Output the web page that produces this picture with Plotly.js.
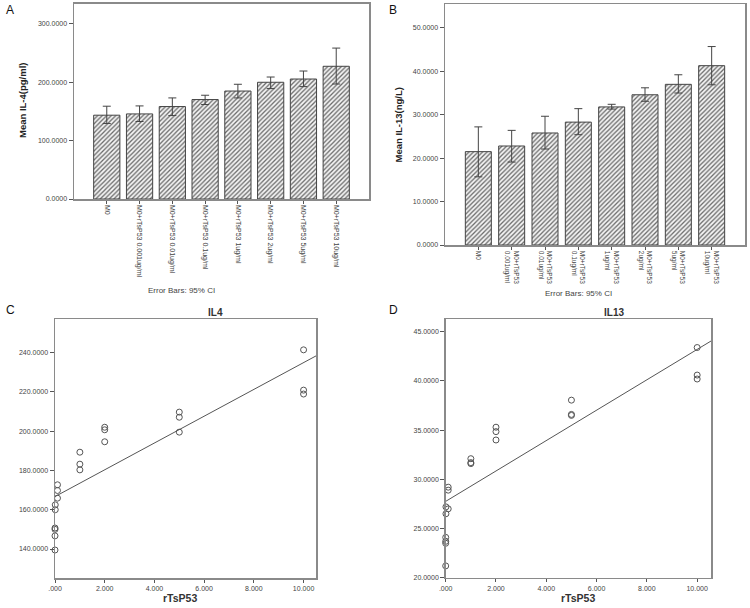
<!DOCTYPE html>
<html><head><meta charset="utf-8">
<script src="https://cdn.plot.ly/plotly-3.0.1.min.js"></script>
<style>html,body{margin:0;padding:0;background:#fff}#chart{width:750px;height:608px}</style>
</head><body><div id="chart"></div>
<script>
// ---------- Data ----------
const categoriesA = ["M0","M0+rTsP53 0.001ug/ml","M0+rTsP53 0.01ug/ml","M0+rTsP53 0.1ug/ml","M0+rTsP53 1ug/ml","M0+rTsP53 2ug/ml","M0+rTsP53 5ug/ml","M0+rTsP53 10ug/ml"];
const categoriesB = ["M0","M0+rTsP53<br>0.001ug/ml","M0+rTsP53<br>0.01ug/ml","M0+rTsP53<br>0.1ug/ml","M0+rTsP53<br>1ug/ml","M0+rTsP53<br>2ug/ml","M0+rTsP53<br>5ug/ml","M0+rTsP53<br>10ug/ml"];
const meanIL4  = [143.6, 145.8, 158.4, 170.4, 185.0, 200.0, 205.6, 227.4];
const ciHighIL4 = [159.0, 159.5, 173.2, 177.8, 196.6, 209.0, 219.3, 258.6];
const ciLowIL4  = [129.4, 132.8, 143.0, 161.9, 173.2, 189.2, 192.6, 197.0];
const meanIL13  = [21.5, 22.8, 25.8, 28.3, 31.8, 34.6, 37.0, 41.3];
const ciHighIL13 = [27.2, 26.4, 29.65, 31.4, 32.4, 36.2, 39.2, 45.7];
const ciLowIL13  = [15.7, 19.1, 22.1, 25.4, 31.3, 33.1, 35.0, 36.9];

const doseC = [0,0,0,0.001,0.01,0.01, 0.1,0.1,0.1, 1,1,1, 2,2,2, 5,5,5, 10,10,10];
const il4C  = [139.5,146.7,150.0,150.7,160.0,162.5, 165.9,169.8,172.7, 189.3,183.2,180.3, 202.0,200.7,194.6, 209.7,207.1,199.5, 241.4,220.9,218.9];
const doseD = [0,0,0.001,0.001,0.01,0.01, 0.1,0.1,0.1, 1,1,1, 2,2,2, 5,5,5, 10,10,10];
const il13D = [21.2,23.5,23.7,24.1,26.5,27.2, 29.2,28.9,27.0, 32.1,31.7,31.6, 35.3,34.85,34.0, 38.05,36.6,36.5, 43.4,40.6,40.2];

const fitIL4  = [166.7, 6.82];   // intercept, slope
const fitIL13 = [27.76, 1.545];

const scatterTickVals = [0,2,4,6,8,10];
const scatterTickText = [".000","2.000","4.000","6.000","8.000","10.000"];

// ---------- Helpers ----------
const W = 750, H = 608;
const dx = (a,b)=>[a/W, b/W];
const dy = (top,bottom)=>[(H-bottom)/H, (H-top)/H];
const FONT = "Arial, 'Liberation Sans', sans-serif";
const tickFont = {family: FONT, size: 7, color: "#444"};
const frameColor = "#8a8a8a";

function diff(a,b){return a.map((v,i)=>v-b[i]);}

const rangeC = [0, 10.5], rangeD = [0, 10.55];
const lineX = r => [r[0], r[1]];

const barStyle = {
  color: "#f2f2f2",
  line: {color: "#444", width: 1},
  pattern: {shape: "/", fgcolor: "#6a6a6a", bgcolor: "#f4f4f4", size: 3.2, solidity: 0.4}
};

const traces = [
  {type:"bar", x:categoriesA, y:meanIL4, xaxis:"x", yaxis:"y", width:0.8, marker:barStyle,
   error_y:{type:"data", symmetric:false, array:diff(ciHighIL4,meanIL4), arrayminus:diff(meanIL4,ciLowIL4), color:"#444", thickness:1, width:4}},
  {type:"bar", x:categoriesB, y:meanIL13, xaxis:"x2", yaxis:"y2", width:0.78, marker:barStyle,
   error_y:{type:"data", symmetric:false, array:diff(ciHighIL13,meanIL13), arrayminus:diff(meanIL13,ciLowIL13), color:"#444", thickness:1, width:4}},
  {type:"scatter", mode:"markers", x:doseC, y:il4C, xaxis:"x3", yaxis:"y3", cliponaxis:false,
   marker:{symbol:"circle-open", size:6, color:"#555", line:{width:1}}},
  {type:"scatter", mode:"lines", x:lineX(rangeC), y:lineX(rangeC).map(v=>fitIL4[0]+fitIL4[1]*v), xaxis:"x3", yaxis:"y3",
   line:{color:"#555", width:1}},
  {type:"scatter", mode:"markers", x:doseD, y:il13D, xaxis:"x4", yaxis:"y4", cliponaxis:false,
   marker:{symbol:"circle-open", size:6, color:"#555", line:{width:1}}},
  {type:"scatter", mode:"lines", x:lineX(rangeD), y:lineX(rangeD).map(v=>fitIL13[0]+fitIL13[1]*v), xaxis:"x4", yaxis:"y4",
   line:{color:"#555", width:1}}
];

const axBase = {showline:true, mirror:true, linecolor:frameColor, linewidth:1.5, showgrid:false, zeroline:false,
  ticks:"outside", ticklen:4, tickcolor:"#555", tickfont:tickFont, fixedrange:true};

const ann = (text,x,y,opts={}) => Object.assign({text, x:x/W, y:(H-y)/H, xref:"paper", yref:"paper",
  showarrow:false, xanchor:"center", yanchor:"middle", font:{family:FONT, size:9, color:"#222"}}, opts);

const layout = {
  width:W, height:H, margin:{l:0,r:0,t:0,b:0}, showlegend:false,
  paper_bgcolor:"#fff", plot_bgcolor:"#fff", font:{family:FONT},
  xaxis: Object.assign({}, axBase, {domain:dx(74,369), anchor:"y", range:[-1,8], tickangle:90, type:"category", ticklen:3}),
  yaxis: Object.assign({}, axBase, {domain:dy(3.5,199), anchor:"x", range:[0,335], tickvals:[0,100,200,300], tickformat:".4f"}),
  xaxis2: Object.assign({}, axBase, {domain:dx(445,745), anchor:"y2", range:[-1,8], tickangle:90, type:"category", ticklen:3, tickfont:{family:FONT,size:6.5,color:"#444"}}),
  yaxis2: Object.assign({}, axBase, {domain:dy(4,245), anchor:"x2", range:[0,55.5], tickvals:[0,10,20,30,40,50], tickformat:".4f"}),
  xaxis3: Object.assign({}, axBase, {domain:dx(55,316), anchor:"y3", range:rangeC, tickvals:scatterTickVals, ticktext:scatterTickText, ticklen:3}),
  yaxis3: Object.assign({}, axBase, {domain:dy(319,578.3), anchor:"x3", range:[125.1,257.1], tickvals:[140,160,180,200,220,240], tickformat:".4f"}),
  xaxis4: Object.assign({}, axBase, {domain:dx(445.7,711), anchor:"y4", range:rangeD, tickvals:scatterTickVals, ticktext:scatterTickText, ticklen:3}),
  yaxis4: Object.assign({}, axBase, {domain:dy(319,577.7), anchor:"x4", range:[20,46.3], tickvals:[20,25,30,35,40,45], tickformat:".4f"}),
  annotations: [
    ann("A", 10, 10, {font:{family:FONT,size:12,color:"#111"}}),
    ann("B", 393, 10, {font:{family:FONT,size:12,color:"#111"}}),
    ann("C", 10, 310, {font:{family:FONT,size:12,color:"#111"}}),
    ann("D", 393, 310, {font:{family:FONT,size:12,color:"#111"}}),
    ann("<b>Mean IL-4(pg/ml)</b>", 23, 101, {textangle:-90, font:{family:FONT,size:9.5,color:"#222"}}),
    ann("<b>Mean IL-13(ng/L)</b>", 398, 124.5, {textangle:-90, font:{family:FONT,size:9.5,color:"#222"}}),
    ann("Error Bars: 95% CI", 181, 290, {font:{family:FONT,size:8,color:"#444"}}),
    ann("Error Bars: 95% CI", 578, 293, {font:{family:FONT,size:8,color:"#444"}}),
    ann("<b>IL4</b>", 216, 312.5, {font:{family:FONT,size:10,color:"#333"}}),
    ann("<b>IL13</b>", 614, 312.5, {font:{family:FONT,size:10,color:"#333"}}),
    ann("<b>rTsP53</b>", 180, 598, {font:{family:FONT,size:10.5,color:"#333"}}),
    ann("<b>rTsP53</b>", 578, 598, {font:{family:FONT,size:10.5,color:"#333"}})
  ]
};

Plotly.newPlot("chart", traces, layout, {staticPlot:true, displayModeBar:false});
</script>
</body></html>
